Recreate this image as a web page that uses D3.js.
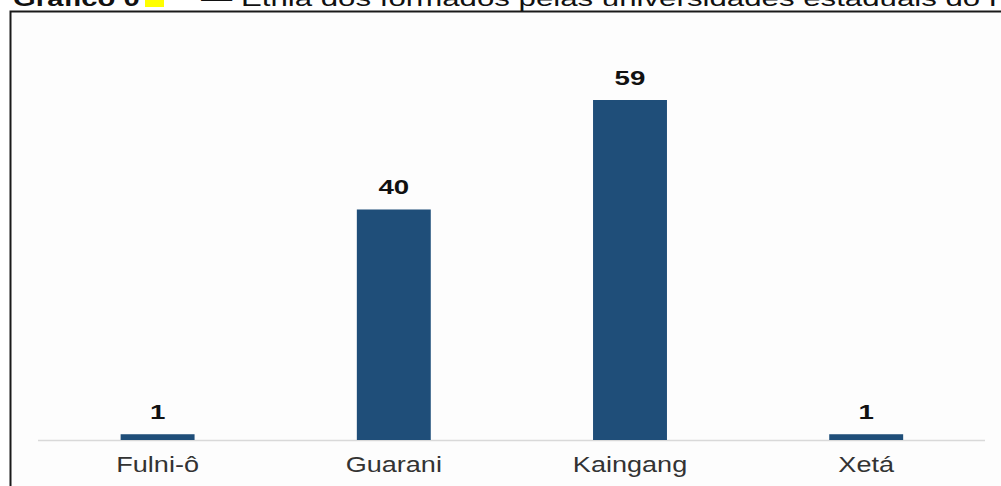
<!DOCTYPE html>
<html>
<head>
<meta charset="utf-8">
<script src="https://cdn.jsdelivr.net/npm/d3@7/dist/d3.min.js"></script>
<style>
  html, body { margin: 0; padding: 0; background: #ffffff; overflow: hidden; }
  svg { display: block; font-family: "Liberation Sans", Arial, sans-serif; }
</style>
</head>
<body>
<svg id="chart" width="1001" height="486"></svg>
<script>
// Ethnicity of graduates
const categories = ["Fulni-ô", "Guarani", "Kaingang", "Xetá"];
const values = [1, 40, 59, 1];
const titleLead = "Gráfico 0";
const titleRest = "— Etnia dos formados pelas universidades estaduais do PR";

const svg = d3.select("#chart");

// frame around the chart area
svg.append("rect")
  .attr("x", 10.5).attr("y", 11.5)
  .attr("width", 1100).attr("height", 600)
  .attr("fill", "#fdfdfd")
  .attr("stroke", "#1a1a1a").attr("stroke-width", 2);

// caption above the frame
const t1 = svg.append("g").attr("transform", "translate(13,6) scale(1.33,1)");
t1.append("text")
  .attr("font-size", 22).attr("font-weight", "bold").attr("fill", "#111")
  .text(titleLead);
svg.append("rect")
  .attr("x", 145).attr("y", -2).attr("width", 19).attr("height", 9)
  .attr("fill", "#ffff00");
svg.append("g").attr("transform", "translate(201,6) scale(1.42,1)")
  .append("text")
  .attr("font-size", 22).attr("fill", "#111")
  .text(titleRest);

const x = d3.scaleBand()
  .domain(categories)
  .range([39.5, 984.3])
  .paddingInner(0.687)
  .paddingOuter(0.3435);

const y = d3.scaleLinear()
  .domain([0, 59])
  .range([440, 100]);

// baseline axis
const axis = svg.append("g")
  .attr("transform", `translate(0,${y(0)})`)
  .call(d3.axisBottom(x).tickSize(0).tickPadding(0));
axis.select(".domain")
  .attr("stroke", "#d9d9d9").attr("stroke-width", 1.5)
  .attr("d", "M38,0.5H985");
axis.selectAll(".tick text")
  .attr("font-family", "Liberation Sans, Arial, sans-serif")
  .attr("font-size", 22)
  .attr("fill", "#333")
  .attr("dy", null)
  .attr("y", 0)
  .attr("transform", "translate(0,32) scale(1.23,1)");

// bars
svg.append("g").selectAll("rect")
  .data(values)
  .join("rect")
  .attr("x", (d, i) => x(categories[i]))
  .attr("width", x.bandwidth())
  .attr("y", d => y(d))
  .attr("height", d => y(0) - y(d))
  .attr("fill", "#1f4e79");

// value labels
svg.append("g").selectAll("g")
  .data(values)
  .join("g")
  .attr("transform", (d, i) => `translate(${x(categories[i]) + x.bandwidth() / 2},${y(d) - 15}) scale(1.42,1)`)
  .append("text")
  .attr("text-anchor", "middle")
  .attr("font-size", 19.5)
  .attr("font-weight", "bold")
  .attr("fill", "#111")
  .text(d => d);
</script>
</body>
</html>
